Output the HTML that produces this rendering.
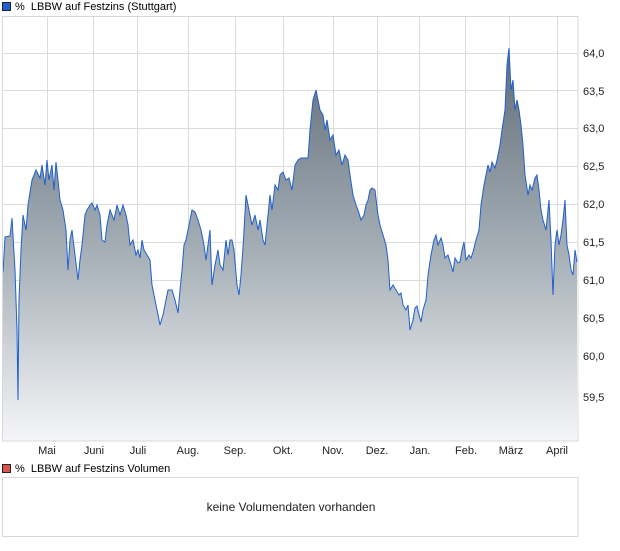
<!DOCTYPE html>
<html><head><meta charset="utf-8"><style>
body{margin:0;background:#fff;font-family:"Liberation Sans",sans-serif;}
text{white-space:pre;}
</style></head><body>
<svg width="620" height="546" xmlns="http://www.w3.org/2000/svg" font-family="Liberation Sans, sans-serif">
<defs><linearGradient id="g" x1="0" y1="48" x2="0" y2="441" gradientUnits="userSpaceOnUse">
<stop offset="0" stop-color="#5f6c78"/><stop offset="0.55" stop-color="#aab3ba"/><stop offset="1" stop-color="#f5f6f8"/></linearGradient></defs>
<rect x="2.5" y="2.5" width="8" height="8" fill="#1f5fcf" stroke="#222" stroke-width="1"/>
<text x="15" y="10" font-size="11" fill="#000" xml:space="preserve">%  LBBW auf Festzins (Stuttgart)</text>
<g stroke="#dcdcdc" stroke-width="1">
<line x1="47.5" y1="16" x2="47.5" y2="441"/><line x1="93.5" y1="16" x2="93.5" y2="441"/><line x1="137.5" y1="16" x2="137.5" y2="441"/><line x1="188.5" y1="16" x2="188.5" y2="441"/><line x1="235.5" y1="16" x2="235.5" y2="441"/><line x1="283.5" y1="16" x2="283.5" y2="441"/><line x1="333.5" y1="16" x2="333.5" y2="441"/><line x1="377.5" y1="16" x2="377.5" y2="441"/><line x1="419.5" y1="16" x2="419.5" y2="441"/><line x1="465.5" y1="16" x2="465.5" y2="441"/><line x1="509.5" y1="16" x2="509.5" y2="441"/><line x1="557.5" y1="16" x2="557.5" y2="441"/>
<line x1="2" y1="53.5" x2="578" y2="53.5"/><line x1="2" y1="90.5" x2="578" y2="90.5"/><line x1="2" y1="128.5" x2="578" y2="128.5"/><line x1="2" y1="166.5" x2="578" y2="166.5"/><line x1="2" y1="204.5" x2="578" y2="204.5"/><line x1="2" y1="242.5" x2="578" y2="242.5"/><line x1="2" y1="280.5" x2="578" y2="280.5"/><line x1="2" y1="318.5" x2="578" y2="318.5"/><line x1="2" y1="356.5" x2="578" y2="356.5"/><line x1="2" y1="394.5" x2="578" y2="394.5"/>
</g>
<polygon fill="url(#g)" points="3,441 3,272 5,237 10,236 12,218 15,270 17,330 18,400 19,300 21,250 23,215 26,230 28,205 32,180 36,170 40,178 42,165 45,185 47,160 49,180 52,165 54,190 56,162 58,180 60,200 63,210 66,230 68,270 70,240 72,230 75,255 78,280 80,260 82,245 85,215 87,210 90,205 92,203 95,210 97,205 100,215 102,240 105,242 107,225 110,210 112,215 114,220 117,205 120,215 123,205 126,215 128,225 130,245 133,240 136,255 138,250 140,258 142,240 144,250 147,255 150,260 152,285 155,300 157,310 160,325 163,315 166,300 168,290 172,290 175,300 178,313 180,290 182,270 184,245 186,240 189,225 192,210 195,212 198,220 201,230 204,245 206,260 208,245 210,230 212,285 215,265 218,250 220,265 223,270 226,240 228,255 230,240 232,240 234,250 237,285 239,295 241,275 243,248 246,195 249,210 252,225 255,215 258,230 260,220 263,240 265,245 268,215 270,195 272,210 275,185 278,190 280,175 283,172 286,180 289,178 292,190 295,165 298,160 301,158 305,158 308,158 310,130 313,100 316,90 318,100 320,110 323,115 325,130 327,120 330,140 333,135 336,155 339,150 342,165 345,155 348,160 350,175 353,195 356,205 358,210 361,220 364,215 366,205 368,200 370,190 372,188 375,190 378,215 380,225 383,235 386,245 388,260 390,290 393,285 396,290 399,295 401,293 403,305 406,310 408,305 410,330 413,320 415,308 417,306 419,315 421,322 423,310 426,300 428,275 431,255 434,240 436,235 438,245 441,238 443,245 445,258 448,255 451,265 453,272 455,258 458,263 460,262 462,250 464,242 466,260 469,255 471,258 473,252 476,240 479,230 481,205 484,185 486,175 488,165 490,172 492,162 495,168 497,160 500,145 502,130 505,110 507,65 509,48 511,90 513,80 515,110 517,100 519,110 521,125 523,145 525,175 528,195 530,185 532,190 535,178 537,175 539,190 541,210 543,220 546,230 549,200 551,240 553,295 555,245 557,230 559,245 561,235 563,220 565,200 567,245 569,255 571,270 573,275 575,250 577,262 577,441"/>
<polyline fill="none" stroke="#1f5fcf" stroke-width="1" points="3,272 5,237 10,236 12,218 15,270 17,330 18,400 19,300 21,250 23,215 26,230 28,205 32,180 36,170 40,178 42,165 45,185 47,160 49,180 52,165 54,190 56,162 58,180 60,200 63,210 66,230 68,270 70,240 72,230 75,255 78,280 80,260 82,245 85,215 87,210 90,205 92,203 95,210 97,205 100,215 102,240 105,242 107,225 110,210 112,215 114,220 117,205 120,215 123,205 126,215 128,225 130,245 133,240 136,255 138,250 140,258 142,240 144,250 147,255 150,260 152,285 155,300 157,310 160,325 163,315 166,300 168,290 172,290 175,300 178,313 180,290 182,270 184,245 186,240 189,225 192,210 195,212 198,220 201,230 204,245 206,260 208,245 210,230 212,285 215,265 218,250 220,265 223,270 226,240 228,255 230,240 232,240 234,250 237,285 239,295 241,275 243,248 246,195 249,210 252,225 255,215 258,230 260,220 263,240 265,245 268,215 270,195 272,210 275,185 278,190 280,175 283,172 286,180 289,178 292,190 295,165 298,160 301,158 305,158 308,158 310,130 313,100 316,90 318,100 320,110 323,115 325,130 327,120 330,140 333,135 336,155 339,150 342,165 345,155 348,160 350,175 353,195 356,205 358,210 361,220 364,215 366,205 368,200 370,190 372,188 375,190 378,215 380,225 383,235 386,245 388,260 390,290 393,285 396,290 399,295 401,293 403,305 406,310 408,305 410,330 413,320 415,308 417,306 419,315 421,322 423,310 426,300 428,275 431,255 434,240 436,235 438,245 441,238 443,245 445,258 448,255 451,265 453,272 455,258 458,263 460,262 462,250 464,242 466,260 469,255 471,258 473,252 476,240 479,230 481,205 484,185 486,175 488,165 490,172 492,162 495,168 497,160 500,145 502,130 505,110 507,65 509,48 511,90 513,80 515,110 517,100 519,110 521,125 523,145 525,175 528,195 530,185 532,190 535,178 537,175 539,190 541,210 543,220 546,230 549,200 551,240 553,295 555,245 557,230 559,245 561,235 563,220 565,200 567,245 569,255 571,270 573,275 575,250 577,262"/>
<rect x="2.5" y="16.5" width="575.5" height="424.5" fill="none" stroke="#d8d8d8"/>
<g font-size="11" fill="#222">
<text x="583" y="57">64,0</text><text x="583" y="95">63,5</text><text x="583" y="132">63,0</text><text x="583" y="170">62,5</text><text x="583" y="208">62,0</text><text x="583" y="246">61,5</text><text x="583" y="284">61,0</text><text x="583" y="322">60,5</text><text x="583" y="360">60,0</text><text x="583" y="401">59,5</text>
</g>
<g font-size="11" fill="#222" text-anchor="middle">
<text x="47" y="454">Mai</text><text x="94" y="454">Juni</text><text x="138" y="454">Juli</text><text x="188" y="454">Aug.</text><text x="235" y="454">Sep.</text><text x="283" y="454">Okt.</text><text x="333" y="454">Nov.</text><text x="377" y="454">Dez.</text><text x="420" y="454">Jan.</text><text x="466" y="454">Feb.</text><text x="511" y="454">März</text><text x="557" y="454">April</text>
</g>
<rect x="2.5" y="464.5" width="8" height="8" fill="#d9534f" stroke="#222" stroke-width="1"/>
<text x="15" y="472" font-size="11" fill="#000" xml:space="preserve">%  LBBW auf Festzins Volumen</text>
<rect x="2.5" y="477.5" width="575.5" height="59" fill="#fff" stroke="#d8d8d8"/>
<text x="291" y="511" font-size="12" fill="#222" text-anchor="middle">keine Volumendaten vorhanden</text>
</svg>
</body></html>
